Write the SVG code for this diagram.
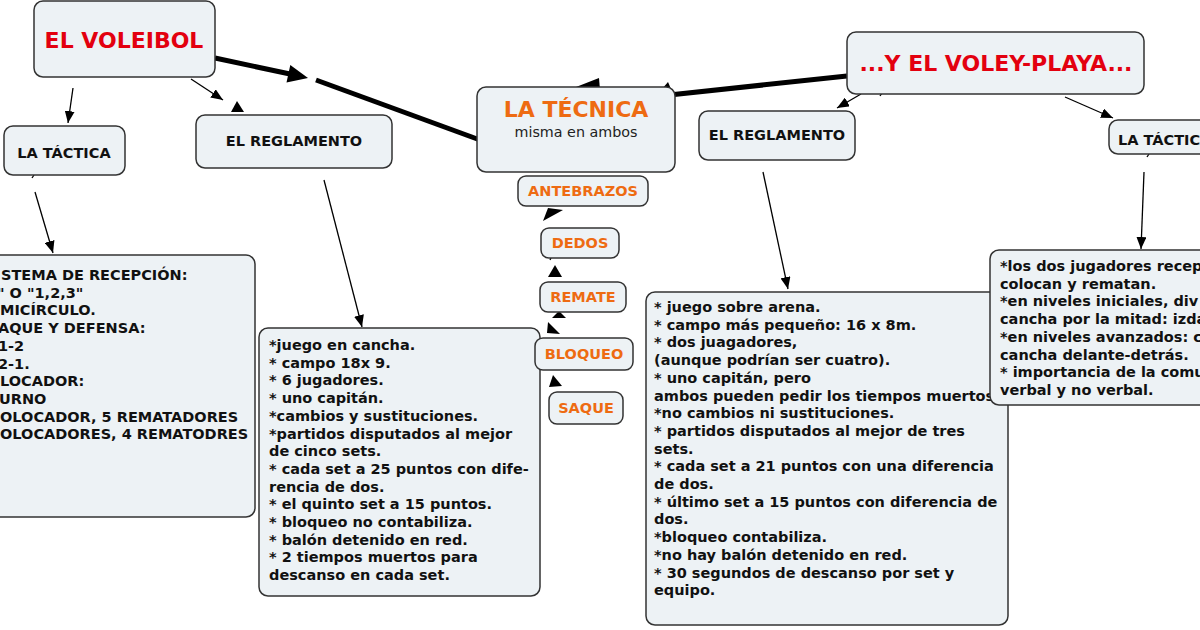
<svg xmlns="http://www.w3.org/2000/svg" width="1200" height="630" viewBox="0 0 1200 630">
<defs>
<style>
.box{fill:#edf2f5;stroke:#333;stroke-width:1.5}
.t{font-family:"DejaVu Sans",Verdana,sans-serif;font-weight:bold;font-size:14.5px;fill:#111}
.c{text-anchor:middle}
.big{font-family:"DejaVu Sans",Verdana,sans-serif;font-weight:bold;font-size:22px;text-anchor:middle}
.red{fill:#e3000f}
.org{fill:#ee6b12}
.sub{font-family:"DejaVu Sans",Verdana,sans-serif;font-size:14.3px;fill:#222;text-anchor:middle}
.ln{stroke:#000;stroke-width:1.3;fill:none}
.thick{stroke:#000;stroke-width:5;fill:none}
.ah{fill:#000}
</style>
<marker id="arr" viewBox="0 0 12 10" refX="12" refY="5" markerWidth="12" markerHeight="10" orient="auto" markerUnits="userSpaceOnUse">
<path d="M0,0 L12,5 L0,10 Z" fill="#000"/>
</marker>
</defs>
<rect width="1200" height="630" fill="#fff"/>

<g id="connectors">
<line class="thick" x1="215" y1="58" x2="290" y2="74"/>
<polygon class="ah" points="308,78 286.5,82.6 290.3,65"/>
<line class="thick" x1="316" y1="80" x2="480" y2="140"/>
<line class="thick" x1="847" y1="76" x2="660" y2="96"/>
<polygon class="ah" points="576,87 599,78 600,90"/>
<polygon class="ah" points="662,89 668,82 671,89"/>
<line class="ln" x1="73" y1="88" x2="68" y2="123" marker-end="url(#arr)"/>
<line class="ln" x1="191" y1="79" x2="223" y2="100" marker-end="url(#arr)"/>
<polygon class="ah" points="237,101 231,112 244,112"/>
<line class="ln" x1="32" y1="178" x2="34" y2="175"/>
<line class="ln" x1="35" y1="192" x2="53" y2="253" marker-end="url(#arr)"/>
<line class="ln" x1="324" y1="180" x2="362" y2="327" marker-end="url(#arr)"/>
<line class="ln" x1="861" y1="94" x2="837" y2="108" marker-end="url(#arr)"/>
<line class="ln" x1="880" y1="96" x2="882" y2="93"/>
<line class="ln" x1="1065" y1="97" x2="1113" y2="118" marker-end="url(#arr)"/>
<line class="ln" x1="763" y1="172" x2="788" y2="289" marker-end="url(#arr)"/>
<line class="ln" x1="1147" y1="157" x2="1149" y2="154"/>
<line class="ln" x1="1144" y1="172" x2="1141" y2="249" marker-end="url(#arr)"/>
<polygon class="ah" points="548,208 563,210 543,221"/>
<line class="ln" x1="550" y1="260" x2="551" y2="258"/>
<polygon class="ah" points="555,265 548,277 562,277"/>
<polygon class="ah" points="559,311 552,318 566,318"/>
<polygon class="ah" points="548,322 560,334 547,333"/>
<polygon class="ah" points="553,375 549,387 562,386"/>
</g>

<g id="n-voleibol">
<rect class="box" x="34" y="1" width="181" height="76" rx="9"/>
<text class="big red" x="124" y="48">EL VOLEIBOL</text>
</g>
<g id="n-tactica-l">
<rect class="box" x="4" y="126" width="121" height="49" rx="9"/>
<text class="t c" x="64" y="158">LA TÁCTICA</text>
</g>
<g id="n-reglamento-l">
<rect class="box" x="196" y="115" width="196" height="53" rx="9"/>
<text class="t c" x="294" y="146">EL REGLAMENTO</text>
</g>
<g id="n-tecnica">
<rect class="box" x="477" y="87" width="198" height="85" rx="9"/>
<text class="big org" x="576" y="117">LA TÉCNICA</text>
<text class="sub" x="576" y="137">misma en ambos</text>
</g>
<g id="n-voleyplaya">
<rect class="box" x="847" y="32" width="297" height="62" rx="9"/>
<text class="big red" x="996" y="71">...Y EL VOLEY-PLAYA...</text>
</g>
<g id="n-reglamento-r">
<rect class="box" x="699" y="111" width="156" height="49" rx="9"/>
<text class="t c" x="777" y="140">EL REGLAMENTO</text>
</g>
<g id="n-tactica-r">
<rect class="box" x="1109" y="120" width="120" height="34" rx="9"/>
<text class="t" x="1118" y="145">LA TÁCTICA</text>
</g>

<g id="n-tactica-l-text">
<rect class="box" x="-20" y="255" width="275" height="262" rx="9"/>
<text class="t">
<tspan x="1" y="280">STEMA DE RECEPCIÓN:</tspan>
<tspan x="-3" y="297.7">" O "1,2,3"</tspan>
<tspan x="0" y="315.4">MICÍRCULO.</tspan>
<tspan x="-2" y="333.1">AQUE Y DEFENSA:</tspan>
<tspan x="-2" y="350.8">1-2</tspan>
<tspan x="-2" y="368.5">2-1.</tspan>
<tspan x="0" y="386.2">LOCADOR:</tspan>
<tspan x="-1" y="403.9">URNO</tspan>
<tspan x="0" y="421.6">OLOCADOR, 5 REMATADORES</tspan>
<tspan x="0" y="439.3">OLOCADORES, 4 REMATODRES</tspan>
</text>
</g>

<g id="n-reglamento-l-text">
<rect class="box" x="259" y="328" width="281" height="268" rx="9"/>
<text class="t">
<tspan x="269" y="350">*juego en cancha.</tspan>
<tspan x="269" y="367.7">* campo 18x 9.</tspan>
<tspan x="269" y="385.4">* 6 jugadores.</tspan>
<tspan x="269" y="403.1">* uno capitán.</tspan>
<tspan x="269" y="420.8">*cambios y sustituciones.</tspan>
<tspan x="269" y="438.5">*partidos disputados al mejor</tspan>
<tspan x="269" y="456.2">de cinco sets.</tspan>
<tspan x="269" y="473.9">* cada set a 25 puntos con dife-</tspan>
<tspan x="269" y="491.6">rencia de dos.</tspan>
<tspan x="269" y="509.3">* el quinto set a 15 puntos.</tspan>
<tspan x="269" y="527">* bloqueo no contabiliza.</tspan>
<tspan x="269" y="544.7">* balón detenido en red.</tspan>
<tspan x="269" y="562.4">* 2 tiempos muertos para</tspan>
<tspan x="269" y="580.1">descanso en cada set.</tspan>
</text>
</g>

<g id="n-reglamento-r-text">
<rect class="box" x="646" y="292" width="362" height="333" rx="9"/>
<text class="t">
<tspan x="654" y="312">* juego sobre arena.</tspan>
<tspan x="654" y="329.7">* campo más pequeño: 16 x 8m.</tspan>
<tspan x="654" y="347.4">* dos juagadores,</tspan>
<tspan x="654" y="365.1">(aunque podrían ser cuatro).</tspan>
<tspan x="654" y="382.8">* uno capitán, pero</tspan>
<tspan x="654" y="400.5">ambos pueden pedir los tiempos muertos</tspan>
<tspan x="654" y="418.2">*no cambios ni sustituciones.</tspan>
<tspan x="654" y="435.9">* partidos disputados al mejor de tres</tspan>
<tspan x="654" y="453.6">sets.</tspan>
<tspan x="654" y="471.3">* cada set a 21 puntos con una diferencia</tspan>
<tspan x="654" y="489">de dos.</tspan>
<tspan x="654" y="506.7">* último set a 15 puntos con diferencia de</tspan>
<tspan x="654" y="524.4">dos.</tspan>
<tspan x="654" y="542.1">*bloqueo contabiliza.</tspan>
<tspan x="654" y="559.8">*no hay balón detenido en red.</tspan>
<tspan x="654" y="577.5">* 30 segundos de descanso por set y</tspan>
<tspan x="654" y="595.2">equipo.</tspan>
</text>
</g>

<g id="n-tactica-r-text">
<rect class="box" x="990" y="250" width="240" height="155" rx="9"/>
<text class="t">
<tspan x="1000" y="271">*los dos jugadores recep</tspan>
<tspan x="1000" y="288.7">colocan y rematan.</tspan>
<tspan x="1000" y="306.4">*en niveles iniciales, div</tspan>
<tspan x="1000" y="324.1">cancha por la mitad: izda</tspan>
<tspan x="1000" y="341.8">*en niveles avanzados: c</tspan>
<tspan x="1000" y="359.5">cancha delante-detrás.</tspan>
<tspan x="1000" y="377.2">* importancia de la comu</tspan>
<tspan x="1000" y="394.9">verbal y no verbal.</tspan>
</text>
</g>

<g id="n-antebrazos">
<rect class="box" x="518" y="176" width="130" height="30" rx="8"/>
<text class="t c org" x="583" y="196">ANTEBRAZOS</text>
</g>
<g id="n-dedos">
<rect class="box" x="541" y="228" width="78" height="30" rx="8"/>
<text class="t c org" x="580" y="248">DEDOS</text>
</g>
<g id="n-remate">
<rect class="box" x="540" y="282" width="86" height="30" rx="8"/>
<text class="t c org" x="583" y="302">REMATE</text>
</g>
<g id="n-bloqueo">
<rect class="box" x="535" y="338" width="98" height="32" rx="8"/>
<text class="t c org" x="584" y="359">BLOQUEO</text>
</g>
<g id="n-saque">
<rect class="box" x="549" y="392" width="74" height="32" rx="8"/>
<text class="t c org" x="586" y="413">SAQUE</text>
</g>
</svg>
